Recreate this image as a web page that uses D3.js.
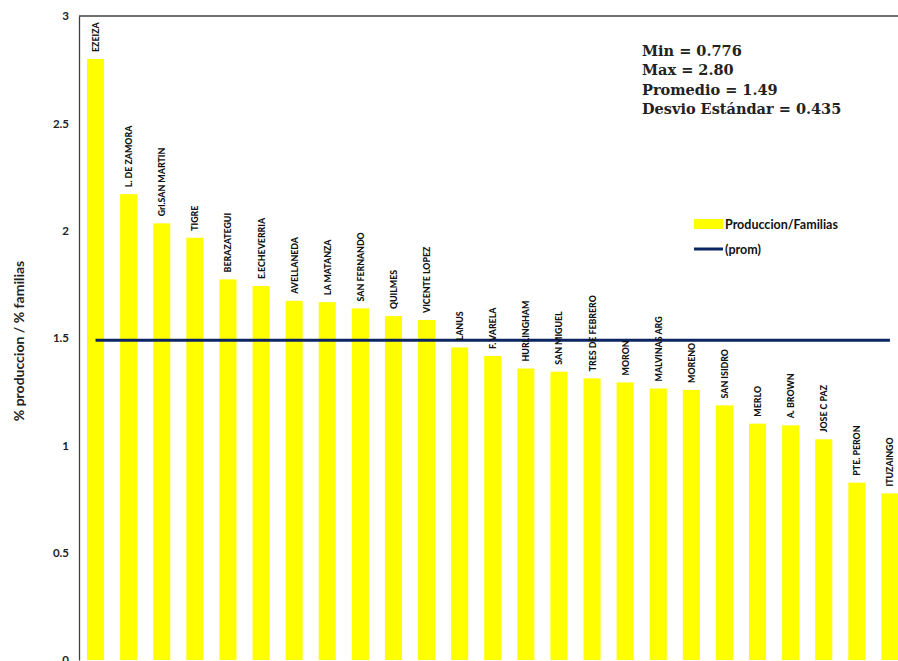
<!DOCTYPE html>
<html>
<head>
<meta charset="utf-8">
<script src="https://cdn.jsdelivr.net/npm/d3@7"></script>
<style>
html,body{margin:0;padding:0;background:#fff;}
svg{display:block;}
</style>
</head>
<body>
<svg id="chart" width="898" height="661"></svg>
<script>
const categories = ["EZEIZA","L. DE ZAMORA","Grl.SAN MARTIN","TIGRE","BERAZATEGUI","E.ECHEVERRIA","AVELLANEDA","LA MATANZA","SAN FERNANDO","QUILMES","VICENTE LOPEZ","LANUS","F. VARELA","HURLINGHAM","SAN MIGUEL","TRES DE FEBRERO","MORON","MALVINAS ARG","MORENO","SAN ISIDRO","MERLO","A. BROWN","JOSE C PAZ","PTE. PERON","ITUZAINGO"];
const values = [2.80,2.17,2.034,1.967,1.773,1.742,1.673,1.667,1.638,1.602,1.584,1.456,1.416,1.358,1.343,1.312,1.293,1.265,1.258,1.186,1.101,1.093,1.028,0.826,0.776];
const promedio = 1.49;
const yTicks = [0,0.5,1,1.5,2,2.5,3];
const yTickLabels = ["0","0.5","1","1.5","2","2.5","3"];
const statsLines = ["Min = 0.776","Max = 2.80","Promedio = 1.49","Desvio Estándar = 0.435"];
const legendLabels = ["Produccion/Familias","(prom)"];
const yTitle = "% produccion / % familias";

const svg = d3.select("#chart");
const mLeft = 79, mTop = 16, mBottom = 660;
const step = 33.1;
const mRight = mLeft + step*categories.length;

const x = d3.scaleBand().domain(categories).range([mLeft, mRight]).paddingInner(0.485).paddingOuter(0.2425);
const y = d3.scaleLinear().domain([0,3]).range([mBottom, mTop]);

// bars
svg.append("g").selectAll("rect").data(values).join("rect")
  .attr("x",(d,i)=>x(categories[i]))
  .attr("width",x.bandwidth())
  .attr("y",d=>y(d))
  .attr("height",d=>y(0)-y(d))
  .attr("fill","#FFFF00");

// plot frame top + left axis
svg.append("line").attr("x1",mLeft).attr("x2",898).attr("y1",mTop).attr("y2",mTop).attr("stroke","#404040").attr("stroke-width",1.3);

const yAxis = d3.axisLeft(y).tickValues(yTicks).tickFormat((d,i)=>yTickLabels[i]).tickSize(0).tickPadding(10);
const ga = svg.append("g").attr("transform",`translate(${mLeft},0)`).call(yAxis);
ga.select(".domain").attr("stroke","#404040").attr("stroke-width",1.3);
ga.selectAll("text").attr("font-family","Lato, 'Open Sans', sans-serif").attr("font-weight","bold").attr("font-size","11.5px").attr("fill","#222");

// average line
const cx = c => x(c)+x.bandwidth()/2;
svg.append("line")
  .attr("x1",cx(categories[0])).attr("x2",cx(categories[categories.length-1]))
  .attr("y1",y(promedio)).attr("y2",y(promedio))
  .attr("stroke","#0b2563").attr("stroke-width",3);

// bar labels
svg.append("g").selectAll("text").data(values).join("text")
  .attr("transform",(d,i)=>`translate(${cx(categories[i])},${y(d)-7}) rotate(-90)`)
  .attr("text-anchor","start").attr("dominant-baseline","central")
  .attr("font-family","Lato, sans-serif").attr("font-weight","900").attr("font-size","8.8px").attr("fill","#111")
  .text((d,i)=>categories[i]);

// y title
svg.append("text")
  .attr("transform",`translate(18,341) rotate(-90)`)
  .attr("text-anchor","middle").attr("dominant-baseline","central")
  .attr("font-family","Lato, 'Open Sans', sans-serif").attr("font-weight","bold").attr("font-size","14px").attr("fill","#222")
  .text(yTitle);

// stats
svg.append("g").selectAll("text").data(statsLines).join("text")
  .attr("x",642).attr("y",(d,i)=>55.5+i*19.5)
  .attr("font-family","'DejaVu Serif', 'Liberation Serif', serif").attr("font-weight","bold").attr("font-size","14.5px").attr("fill","#222")
  .text(d=>d);

// legend
const lg = svg.append("g");
lg.append("rect").attr("x",694).attr("y",219).attr("width",29).attr("height",10).attr("fill","#FFFF00");
lg.append("line").attr("x1",694).attr("x2",723).attr("y1",249).attr("y2",249).attr("stroke","#0b2563").attr("stroke-width",3);
lg.selectAll("text").data(legendLabels).join("text")
  .attr("x",725).attr("y",(d,i)=>224+i*25)
  .attr("dominant-baseline","central")
  .attr("font-family","Lato, 'Open Sans', sans-serif").attr("font-weight","bold").attr("font-size","12.5px").attr("fill","#111")
  .text(d=>d);
</script>
</body>
</html>
